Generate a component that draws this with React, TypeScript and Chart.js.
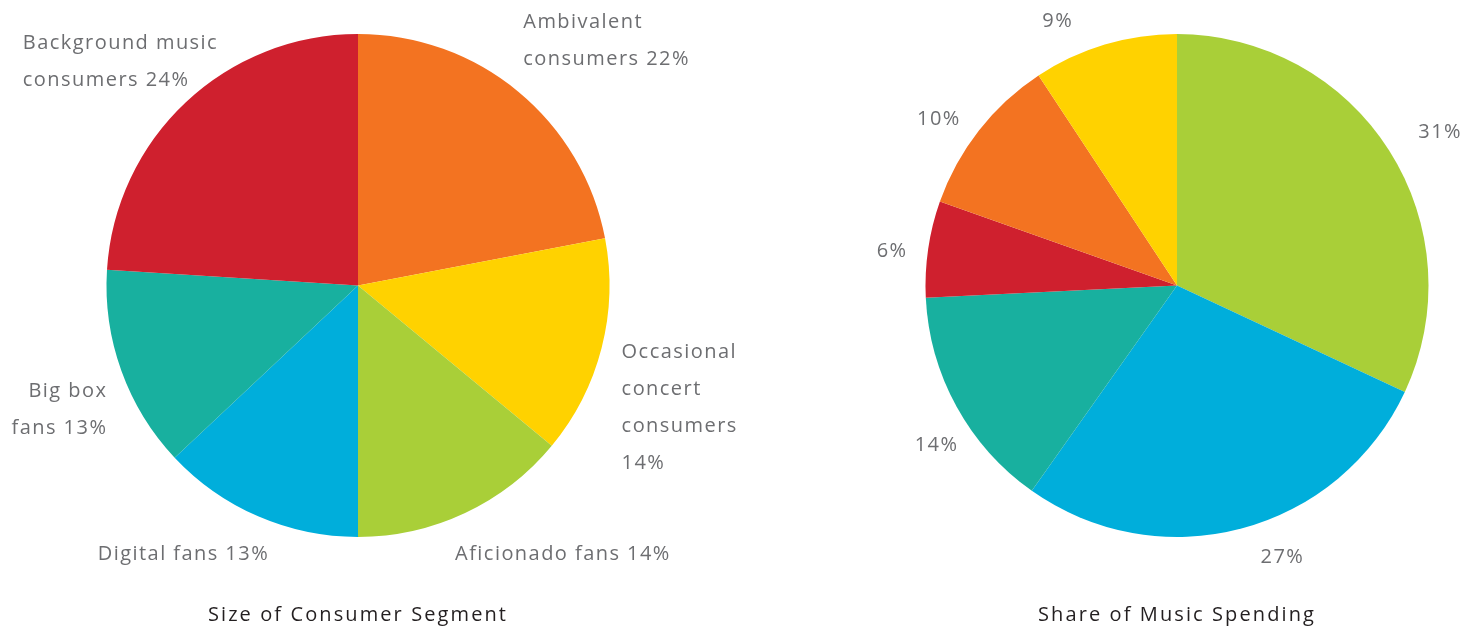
import React, { useEffect, useRef } from "react";
import { Chart, registerables } from "chart.js";

Chart.register(...registerables);

const segmentCategories = [
  ["Ambivalent", "consumers 22%"],
  ["Occasional", "concert", "consumers", "14%"],
  ["Aficionado fans 14%"],
  ["Digital fans 13%"],
  ["Big box", "fans 13%"],
  ["Background music", "consumers 24%"],
];
const segmentValues = [22, 14, 14, 13, 13, 24];
const segmentColors = ["#F37321", "#FFD200", "#A9CF38", "#00AEDB", "#18B09F", "#CF202E"];

const spendingLabels = ["31%", "27%", "14%", "6%", "10%", "9%"];
const spendingValues = [31, 27, 14, 6, 10, 9];
const spendingColors = ["#A9CF38", "#00AEDB", "#18B09F", "#CF202E", "#F37321", "#FFD200"];

const titles = ["Size of Consumer Segment", "Share of Music Spending"];

// label placement relative to the slice's outer edge at its mid-angle
const segmentLabelLayout = [
  { align: "left", dx: 5, dy: -69 },
  { align: "left", dx: 20, dy: 4 },
  { align: "left", dx: -10, dy: 41 },
  { align: "right", dx: 11, dy: 38 },
  { align: "right", dx: -14, dy: 21 },
  { align: "left", dx: -163, dy: -59 },
];
const spendingLabelLayout = [
  { align: "center", dx: 51, dy: -18 },
  { align: "center", dx: 41, dy: 29 },
  { align: "center", dx: -20, dy: 39 },
  { align: "center", dx: -36, dy: 2 },
  { align: "center", dx: -40, dy: -11 },
  { align: "center", dx: -47, dy: -23 },
];

const FONT = "'Open Sans', Lato, sans-serif";

const spacing = {
  id: "spacing",
  beforeDraw(chart: any) {
    (chart.ctx as any).letterSpacing = "2.1px";
  },
};

const outsideLabels = {
  id: "outsideLabels",
  afterDatasetsDraw(chart: any, _args: any, opts: any) {
    const { ctx } = chart;
    const meta = chart.getDatasetMeta(0);
    const lines: string[][] = opts.lines;
    const layout = opts.layout;
    ctx.save();
    ctx.font = `${opts.size}px ${FONT}`;
    (ctx as any).letterSpacing = "1.45px";
    ctx.fillStyle = opts.color;
    ctx.textBaseline = "middle";
    meta.data.forEach((arc: any, i: number) => {
      const p = arc.getProps(["x", "y", "startAngle", "endAngle", "outerRadius"], true);
      const mid = (p.startAngle + p.endAngle) / 2;
      const ex = p.x + Math.cos(mid) * p.outerRadius;
      const ey = p.y + Math.sin(mid) * p.outerRadius;
      const l = layout[i];
      ctx.textAlign = l.align;
      lines[i].forEach((t: string, k: number) => {
        ctx.fillText(t, ex + l.dx, ey + l.dy + k * opts.lineHeight);
      });
    });
    ctx.restore();
  },
};

function PieChart(props: {
  values: number[];
  colors: string[];
  lines: string[][];
  layout: any[];
  title: string;
  padLeft: number;
  padRight: number;
}) {
  const ref = useRef<HTMLCanvasElement>(null);
  useEffect(() => {
    if (!ref.current) return;
    const chart = new Chart(ref.current, {
      type: "pie",
      data: {
        labels: props.lines.map((l) => l.join(" ")),
        datasets: [
          {
            data: props.values,
            backgroundColor: props.colors,
            borderWidth: 0,
          },
        ],
      },
      options: {
        animation: false,
        responsive: false,
        layout: { padding: { left: props.padLeft, right: props.padRight, top: 34, bottom: 0 } },
        plugins: {
          legend: { display: false },
          tooltip: { enabled: false },
          title: {
            display: true,
            position: "bottom",
            text: props.title,
            color: "#231F20",
            font: { family: FONT, size: 20, weight: "normal" },
            padding: { top: 66, bottom: 0 },
          },
          outsideLabels: {
            lines: props.lines,
            layout: props.layout,
            size: 20,
            lineHeight: 37,
            color: "#6D6E71",
          },
        } as any,
      },
      plugins: [spacing, outsideLabels],
    });
    return () => chart.destroy();
  }, []);
  return <canvas ref={ref} width={738} height={627} style={{ display: "block" }} />;
}

export default function App() {
  return (
    <div
      style={{
        position: "fixed",
        left: 0,
        top: 0,
        width: 1477,
        height: 627,
        background: "#fff",
        display: "flex",
      }}
    >
      <PieChart
        values={segmentValues}
        colors={segmentColors}
        lines={segmentCategories}
        layout={segmentLabelLayout}
        title={titles[0]}
        padLeft={100}
        padRight={122}
      />
      <div style={{ width: 1 }} />
      <PieChart
        values={spendingValues}
        colors={spendingColors}
        lines={spendingLabels.map((s) => [s])}
        layout={spendingLabelLayout}
        title={titles[1]}
        padLeft={180}
        padRight={42}
      />
    </div>
  );
}
